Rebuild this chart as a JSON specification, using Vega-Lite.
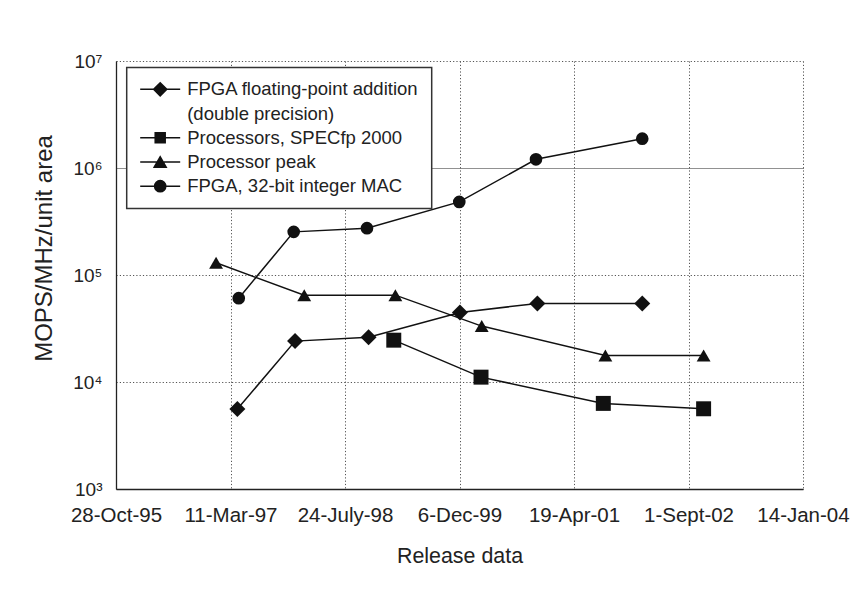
{
  "$schema": "https://vega.github.io/schema/vega-lite/v6.json",
  "width": 687,
  "height": 428,
  "autosize": {"type": "none"},
  "padding": {"left": 116, "top": 61, "right": 57, "bottom": 102},
  "background": "white",
  "config": {
    "font": "Liberation Sans",
    "view": {"stroke": null}
  },
  "data": {
    "values": [
      {"series": "FPGA floating-point addition", "date": "1997-04-10", "value": 5580},
      {"series": "FPGA floating-point addition", "date": "1997-12-18", "value": 24100},
      {"series": "FPGA floating-point addition", "date": "1998-11-04", "value": 26200},
      {"series": "FPGA floating-point addition", "date": "1999-12-08", "value": 44700},
      {"series": "FPGA floating-point addition", "date": "2000-11-10", "value": 54200},
      {"series": "FPGA floating-point addition", "date": "2002-02-11", "value": 54200},
      {"series": "Processors, SPECfp 2000", "date": "1999-02-22", "value": 24600},
      {"series": "Processors, SPECfp 2000", "date": "2000-03-09", "value": 11100},
      {"series": "Processors, SPECfp 2000", "date": "2001-08-25", "value": 6310},
      {"series": "Processors, SPECfp 2000", "date": "2002-11-06", "value": 5620},
      {"series": "Processor peak", "date": "1997-01-07", "value": 130000},
      {"series": "Processor peak", "date": "1998-01-27", "value": 64800},
      {"series": "Processor peak", "date": "1999-03-01", "value": 64800},
      {"series": "Processor peak", "date": "2000-03-12", "value": 33300},
      {"series": "Processor peak", "date": "2001-09-03", "value": 17700},
      {"series": "Processor peak", "date": "2002-11-06", "value": 17700},
      {"series": "FPGA, 32-bit integer MAC", "date": "1997-04-16", "value": 60700},
      {"series": "FPGA, 32-bit integer MAC", "date": "1997-12-12", "value": 253000},
      {"series": "FPGA, 32-bit integer MAC", "date": "1998-10-28", "value": 274000},
      {"series": "FPGA, 32-bit integer MAC", "date": "1999-12-05", "value": 482000},
      {"series": "FPGA, 32-bit integer MAC", "date": "2000-11-04", "value": 1205000},
      {"series": "FPGA, 32-bit integer MAC", "date": "2002-02-11", "value": 1880000}
    ]
  },
  "encoding": {
    "x": {
      "field": "date",
      "type": "temporal",
      "scale": {
        "type": "utc",
        "domain": [
          {"year": 1995, "month": 10, "date": 28, "utc": true},
          {"year": 2004, "month": 1, "date": 14, "utc": true}
        ]
      },
      "axis": {
        "title": "Release data",
        "values": [
          {"year": 1995, "month": 10, "date": 28, "utc": true},
          {"year": 1997, "month": 3, "date": 11, "utc": true},
          {"year": 1998, "month": 7, "date": 24, "utc": true},
          {"year": 1999, "month": 12, "date": 6, "utc": true},
          {"year": 2001, "month": 4, "date": 19, "utc": true},
          {"year": 2002, "month": 9, "date": 1, "utc": true},
          {"year": 2004, "month": 1, "date": 14, "utc": true}
        ],
        "labelExpr": "['28-Oct-95','11-Mar-97','24-July-98','6-Dec-99','19-Apr-01','1-Sept-02','14-Jan-04'][round((time(datum.value) - utc(1995,9,28))/43200000000)]",
        "labelFontSize": 20.5,
        "labelColor": "#222",
        "labelPadding": 16.5,
        "labelFlush": false,
        "labelOverlap": false,
        "titleFontSize": 21.4,
        "titleFontWeight": "normal",
        "titleColor": "#222",
        "titlePadding": 19,
        "ticks": false,
        "domainColor": "#222",
        "domainWidth": 1.3,
        "grid": true,
        "gridColor": "#555",
        "gridDash": [1.2, 2.1],
        "gridWidth": 1
      }
    },
    "y": {
      "field": "value",
      "type": "quantitative",
      "scale": {"type": "log", "domain": [1000, 10000000]},
      "axis": {
        "title": "MOPS/MHz/unit area",
        "values": [1000, 10000, 100000, 1000000, 10000000],
        "labelExpr": "'10' + ['³','⁴','⁵','⁶','⁷'][round(log(datum.value)/LN10) - 3]",
        "labelFont": "Liberation Sans, DejaVu Sans",
        "labelFontSize": 19,
        "labelColor": "#222",
        "labelPadding": 14,
        "titleFontSize": 24,
        "titleFontWeight": "normal",
        "titleColor": "#222",
        "titlePadding": 16,
        "titleY": 187,
        "ticks": false,
        "domainColor": "#222",
        "domainWidth": 1.3,
        "grid": true,
        "gridColor": {"condition": {"test": "datum.value == 1000000", "value": "#222"}, "value": "#555"},
        "gridDash": {"condition": {"test": "datum.value == 1000000", "value": [1, 1]}, "value": [1.2, 2.1]},
        "gridWidth": 1
      }
    }
  },
  "layer": [
    {
      "mark": {"type": "line", "strokeWidth": 1.5},
      "encoding": {
        "color": {
          "field": "series",
          "type": "nominal",
          "scale": {
            "domain": ["FPGA floating-point addition", "(double precision)", "Processors, SPECfp 2000", "Processor peak", "FPGA, 32-bit integer MAC"],
            "range": ["#111", "#111", "#111", "#111", "#111"]
          },
          "legend": {
            "orient": "none",
            "legendX": 10.7,
            "legendY": 6.6,
            "title": null,
            "padding": 12.5,
            "rowPadding": 5.2,
            "clipHeight": 18.5,
            "labelOffset": 6,
            "labelFontSize": 18.5,
            "labelColor": "#222",
            "labelLimit": 500,
            "symbolSize": 1600,
            "symbolStrokeWidth": 1.5,
            "strokeColor": "#333",
            "fillColor": "white",
            "encode": {
              "legend": {"update": {"strokeWidth": {"value": 1.5}}},
              "symbols": {
                "update": {
                  "shape": {"signal": "datum.value === 'FPGA floating-point addition' ? 'M-1,0L1,0M-0.33,0L0,-0.33L0.33,0L0,0.33Z' : datum.value === 'Processors, SPECfp 2000' ? 'M-1,0L1,0M-0.25,-0.25L0.25,-0.25L0.25,0.25L-0.25,0.25Z' : datum.value === 'Processor peak' ? 'M-1,0L1,0M-0.3,0.26L0,-0.26L0.3,0.26Z' : datum.value === 'FPGA, 32-bit integer MAC' ? 'M-1,0L1,0M-0.28,0A0.28,0.28,0,1,1,0.28,0A0.28,0.28,0,1,1,-0.28,0Z' : 'M0,0'"},
                  "size": {"value": 1600},
                  "fill": {"value": "#111"},
                  "stroke": {"value": "#111"},
                  "strokeWidth": {"value": 1.5},
                  "opacity": {"value": 1},
                  "fillOpacity": {"value": 1},
                  "strokeOpacity": {"value": 1}
                }
              }
            }
          }
        }
      }
    },
    {
      "mark": {"type": "point", "filled": true, "opacity": 1, "color": "#111"},
      "encoding": {
        "shape": {
          "field": "series",
          "type": "nominal",
          "scale": {
            "domain": ["FPGA floating-point addition", "Processors, SPECfp 2000", "Processor peak", "FPGA, 32-bit integer MAC"],
            "range": ["diamond", "square", "triangle-up", "circle"]
          },
          "legend": null
        },
        "size": {
          "field": "series",
          "type": "ordinal",
          "scale": {
            "domain": ["FPGA floating-point addition", "Processors, SPECfp 2000", "Processor peak", "FPGA, 32-bit integer MAC"],
            "range": [256, 160, 155, 165]
          },
          "legend": null
        }
      }
    }
  ]
}
